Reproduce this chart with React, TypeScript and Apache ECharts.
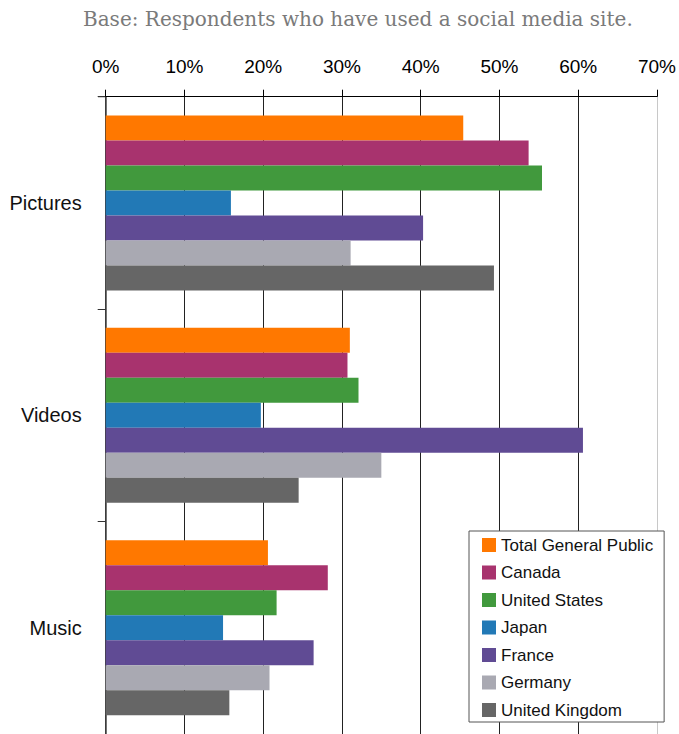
import React, { useEffect, useRef } from "react";
import * as echarts from "echarts";

const categories = ["Pictures", "Videos", "Music"];
const seriesNames = [
  "Total General Public",
  "Canada",
  "United States",
  "Japan",
  "France",
  "Germany",
  "United Kingdom",
];
const totalGeneralPublic = [45.4, 31.0, 20.6];
const canada = [53.7, 30.7, 28.2];
const unitedStates = [55.4, 32.1, 21.7];
const japan = [15.9, 19.7, 14.9];
const france = [40.3, 60.6, 26.4];
const germany = [31.1, 35.0, 20.8];
const unitedKingdom = [49.3, 24.5, 15.7];
const seriesValues = [totalGeneralPublic, canada, unitedStates, japan, france, germany, unitedKingdom];
const seriesColors = ["#FF7800", "#A8336E", "#41993D", "#2279B6", "#604B94", "#A9A9B2", "#666666"];
const titleText = "Base: Respondents who have used a social media site.";

export default function App() {
  const ref = useRef<HTMLDivElement>(null);
  useEffect(() => {
    if (!ref.current) return;
    const chart = echarts.init(ref.current, null, { renderer: "svg" });
    const sans = "'Liberation Sans', Arial, sans-serif";
    chart.setOption({
      animation: false,
      backgroundColor: "#ffffff",
      title: {
        text: titleText,
        left: 83,
        top: 9,
        padding: 0,
        textStyle: {
          fontFamily: "'DejaVu Serif', serif",
          fontSize: 20,
          fontWeight: "normal",
          color: "#7a7a7a",
        },
      },
      legend: {
        orient: "vertical",
        left: 469,
        top: 531,
        padding: [5, 11, 3, 13],
        itemWidth: 14,
        itemHeight: 14,
        itemGap: 9.5,
        icon: "rect",
        backgroundColor: "#ffffff",
        borderColor: "#555555",
        borderWidth: 1,
        borderRadius: 0,
        data: seriesNames,
        textStyle: { fontFamily: sans, fontSize: 17, lineHeight: 18, color: "#111" },
      },
      grid: { left: 105.7, top: 96.7, width: 552.3, height: 641 },
      xAxis: {
        type: "value",
        position: "top",
        min: 0,
        max: 70,
        interval: 10,
        axisLine: { show: true, lineStyle: { color: "#000", width: 1 } },
        axisTick: { show: true, inside: false, length: 7, lineStyle: { color: "#000", width: 1 } },
        axisLabel: {
          formatter: "{value}%",
          margin: 21,
          fontFamily: sans,
          fontSize: 19,
          color: "#000",
        },
        splitLine: {
          show: true,
          lineStyle: {
            color: ["#222", "#222", "#222", "#222", "#222", "#222", "#222", "#c8c8c8"],
            width: 1,
          },
        },
      },
      yAxis: {
        type: "category",
        inverse: true,
        data: categories,
        axisLine: { show: true, lineStyle: { color: "#444", width: 1.5 } },
        axisTick: { show: true, length: 8, lineStyle: { color: "#333", width: 1 } },
        axisLabel: {
          margin: 24,
          fontFamily: "'Liberation Sans Narrow', 'Liberation Sans', Arial, sans-serif",
          fontSize: 20,
          color: "#111",
        },
      },
      graphic: [
        {
          type: "line",
          shape: { x1: 98, y1: 96.7, x2: 106, y2: 96.7 },
          style: { stroke: "#000", lineWidth: 1 },
        },
      ],
      series: seriesNames.map((name, i) => ({
        name,
        type: "bar",
        data: seriesValues[i],
        barGap: "0%",
        barCategoryGap: "17.6%",
        itemStyle: { color: seriesColors[i] },
      })),
    });
    return () => chart.dispose();
  }, []);
  return (
    <div
      ref={ref}
      style={{ position: "fixed", left: 0, top: 0, width: 679, height: 734 }}
    />
  );
}
